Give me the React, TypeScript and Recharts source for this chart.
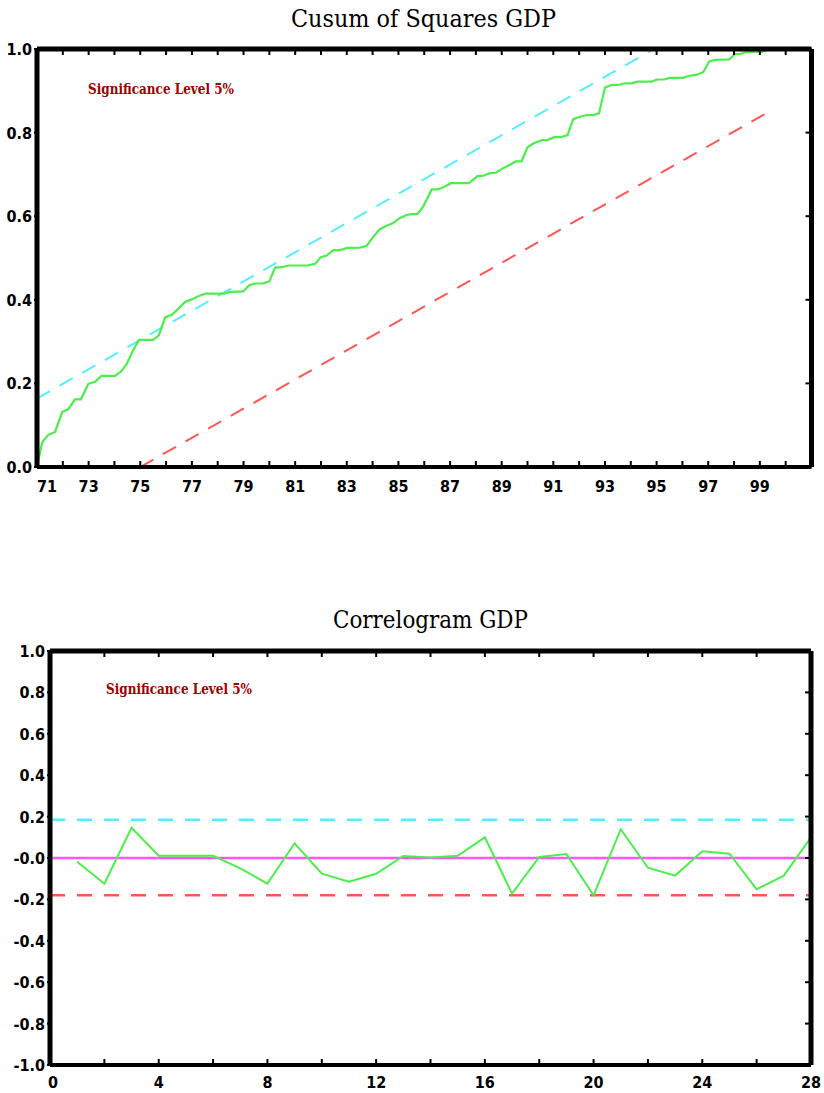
import React from 'react';
import { LineChart, Line, XAxis, YAxis, ReferenceLine } from 'recharts';

// ---------- Cusum of Squares data ----------
const cusumYears = [
  71.0, 71.2, 71.44, 71.7, 71.98, 72.21, 72.47, 72.7, 72.99, 73.25, 73.5, 74.02, 74.25, 74.47, 74.73, 74.95,
  75.5, 75.72, 75.96, 76.22, 76.45, 76.73, 76.99, 77.27, 77.53, 78.25, 78.5, 78.99, 79.22, 79.44, 79.76, 80.0,
  80.22, 80.48, 80.73, 81.47, 81.77, 81.99, 82.22, 82.48, 82.74, 83.02, 83.51, 83.77, 84.03, 84.28, 84.54, 84.78,
  85.06, 85.32, 85.51, 85.73, 85.96, 86.29, 86.54, 86.74, 87.03, 87.73, 88.07, 88.29, 88.54, 88.77, 89.06, 89.32,
  89.54, 89.77, 90.0, 90.22, 90.55, 90.78, 91.03, 91.29, 91.55, 91.77, 92.03, 92.29, 92.55, 92.77, 93.0, 93.26,
  93.51, 93.77, 94.03, 94.25, 94.81, 95.02, 95.28, 95.52, 96.03, 96.26, 96.55, 96.81, 97.04, 97.26, 97.81, 98.03,
  98.23, 98.49, 99.07, 99.3,
];
const cusumValues = [
  0.0, 0.059, 0.077, 0.084, 0.132, 0.138, 0.162, 0.162, 0.199, 0.204, 0.218, 0.218, 0.228, 0.246, 0.28, 0.304,
  0.304, 0.315, 0.358, 0.364, 0.377, 0.395, 0.401, 0.409, 0.415, 0.415, 0.419, 0.42, 0.435, 0.439, 0.439, 0.444,
  0.477, 0.478, 0.482, 0.482, 0.486, 0.502, 0.506, 0.519, 0.519, 0.524, 0.525, 0.529, 0.551, 0.569, 0.577, 0.583,
  0.596, 0.603, 0.605, 0.605, 0.623, 0.664, 0.664, 0.669, 0.679, 0.679, 0.696, 0.697, 0.703, 0.704, 0.715, 0.723,
  0.731, 0.731, 0.765, 0.774, 0.782, 0.782, 0.789, 0.789, 0.794, 0.832, 0.838, 0.842, 0.842, 0.846, 0.908, 0.914,
  0.914, 0.918, 0.918, 0.922, 0.922, 0.927, 0.927, 0.931, 0.931, 0.936, 0.938, 0.945, 0.97, 0.974, 0.975, 0.988,
  0.988, 0.993, 0.993, 0.999,
];
const upperBandYears = [71.0, 94.9];
const upperBandValues = [0.164, 1.0];
const lowerBandYears = [75.0, 99.3];
const lowerBandValues = [0.0, 0.848];
const cusumLabelYears = [71, 73, 75, 77, 79, 81, 83, 85, 87, 89, 91, 93, 95, 97, 99];
const cusumMinorYears = [71, 72, 73, 74, 75, 76, 77, 78, 79, 80, 81, 82, 83, 84, 85, 86, 87, 88, 89, 90, 91, 92, 93, 94, 95, 96, 97, 98, 99, 100, 101];
const cusumYTicks = [0, 0.2, 0.4, 0.6, 0.8, 1.0];

// ---------- Correlogram data ----------
const lags = [1, 2, 3, 4, 5, 6, 7, 8, 9, 10, 11, 12, 13, 14, 15, 16, 17, 18, 19, 20, 21, 22, 23, 24, 25, 26, 27, 28];
const acfValues = [
  -0.018, -0.124, 0.146, 0.011, 0.011, 0.011, -0.05, -0.124, 0.071, -0.076, -0.114, -0.076, 0.01, 0.003,
  0.011, 0.1, -0.172, 0.005, 0.019, -0.18, 0.139, -0.047, -0.085, 0.032, 0.021, -0.151, -0.085, 0.1,
];
const acfBandLags = [0, 28];
const acfUpperValues = [0.185, 0.185];
const acfLowerValues = [-0.18, -0.18];
const acfLabelLags = [0, 4, 8, 12, 16, 20, 24, 28];
const acfMinorLags = [0, 2, 4, 6, 8, 10, 12, 14, 16, 18, 20, 22, 24, 26, 28];
const acfYTicks = [-1, -0.8, -0.6, -0.4, -0.2, 0, 0.2, 0.4, 0.6, 0.8, 1.0];

const toPoints = (xs: number[], ys: number[]) => xs.map((x, i) => ({ x, y: ys[i] }));
const cusumData = toPoints(cusumYears, cusumValues);
const upperBandData = toPoints(upperBandYears, upperBandValues);
const lowerBandData = toPoints(lowerBandYears, lowerBandValues);
const acfData = toPoints(lags, acfValues);
const acfUpperData = toPoints(acfBandLags, acfUpperValues);
const acfLowerData = toPoints(acfBandLags, acfLowerValues);

const GREEN = '#4cee4c';
const CYAN = '#55eeff';
const RED = '#ff5555';
const MAGENTA = '#ff55ff';
const DARKRED = '#a00000';
const TICK_FONT = '"DejaVu Sans Condensed", "Liberation Sans Narrow", sans-serif';
const TITLE_FONT = '"DejaVu Serif", serif';

const makeXTick = (dyBase: number, firstShift: number) => (props: any) => {
  const { x, y, payload, index } = props;
  return (
    <text
      x={x + (index === 0 ? firstShift : 0)}
      y={y + dyBase}
      textAnchor="middle"
      fontFamily={TICK_FONT}
      fontWeight={700}
      fontSize={16}
      fill="#000"
    >
      {String(payload.value)}
    </text>
  );
};

const makeYTick = (fmt: (v: number) => string) => (props: any) => {
  const { x, y, payload } = props;
  return (
    <text x={x} y={y + 6} textAnchor="end" fontFamily={TICK_FONT} fontWeight={700} fontSize={16} fill="#000">
      {fmt(payload.value)}
    </text>
  );
};

const NoLabel = () => <g />;

const fmtTop = (v: number) => v.toFixed(1);
const fmtBottom = (v: number) => (v === 0 ? '-0.0' : v.toFixed(1));

const axisLine = (w: number) => ({ stroke: '#000', strokeWidth: w });
const tickLine = { stroke: '#000', strokeWidth: 2 };

function CusumChart() {
  return (
    <LineChart width={824} height={510} margin={{ top: 49, right: 12.5, bottom: 13, left: 0 }}>
      <XAxis
        xAxisId="b"
        dataKey="x"
        type="number"
        domain={[71, 101]}
        allowDataOverflow
        ticks={cusumLabelYears}
        interval={0}
        height={30}
        tickLine={false}
        tickSize={0}
        tickMargin={0}
        axisLine={axisLine(4)}
        tick={makeXTick(25, 10)}
      />
      <XAxis
        xAxisId="bm"
        orientation="bottom"
        mirror
        dataKey="x"
        type="number"
        domain={[71, 101]}
        allowDataOverflow
        ticks={cusumMinorYears}
        interval={0}
        tick={NoLabel}
        tickSize={6}
        tickLine={tickLine}
        axisLine={false}
      />
      <XAxis
        xAxisId="t"
        orientation="top"
        mirror
        dataKey="x"
        type="number"
        domain={[71, 101]}
        allowDataOverflow
        ticks={cusumMinorYears}
        interval={0}
        tick={NoLabel}
        tickSize={6}
        tickLine={tickLine}
        axisLine={axisLine(5)}
      />
      <YAxis
        yAxisId="l"
        type="number"
        domain={[0, 1]}
        allowDataOverflow
        ticks={cusumYTicks}
        interval={0}
        width={37}
        tickSize={3}
        tickMargin={2}
        tickLine={tickLine}
        axisLine={axisLine(5)}
        tick={makeYTick(fmtTop)}
      />
      <YAxis
        yAxisId="r"
        orientation="right"
        mirror
        type="number"
        domain={[0, 1]}
        allowDataOverflow
        ticks={cusumYTicks}
        interval={0}
        tick={NoLabel}
        tickSize={6}
        tickLine={tickLine}
        axisLine={axisLine(5)}
      />
      <Line
        xAxisId="b"
        yAxisId="l"
        data={upperBandData}
        dataKey="y"
        stroke={CYAN}
        strokeWidth={2}
        strokeDasharray="15 11"
        dot={false}
        isAnimationActive={false}
      />
      <Line
        xAxisId="b"
        yAxisId="l"
        data={lowerBandData}
        dataKey="y"
        stroke={RED}
        strokeWidth={2}
        strokeDasharray="15 11"
        dot={false}
        isAnimationActive={false}
      />
      <Line
        xAxisId="b"
        yAxisId="l"
        data={cusumData}
        dataKey="y"
        stroke={GREEN}
        strokeWidth={2.2}
        dot={false}
        isAnimationActive={false}
      />
    </LineChart>
  );
}

function CorrelogramChart() {
  return (
    <LineChart width={824} height={493} margin={{ top: 51, right: 13, bottom: 0, left: 0 }}>
      <XAxis
        xAxisId="b"
        dataKey="x"
        type="number"
        domain={[0, 28]}
        allowDataOverflow
        ticks={acfLabelLags}
        interval={0}
        height={28}
        tickLine={false}
        tickSize={0}
        tickMargin={0}
        axisLine={axisLine(4)}
        tick={makeXTick(23, 3)}
      />
      <XAxis
        xAxisId="bm"
        orientation="bottom"
        mirror
        dataKey="x"
        type="number"
        domain={[0, 28]}
        allowDataOverflow
        ticks={acfMinorLags}
        interval={0}
        tick={NoLabel}
        tickSize={6}
        tickLine={tickLine}
        axisLine={false}
      />
      <XAxis
        xAxisId="t"
        orientation="top"
        mirror
        dataKey="x"
        type="number"
        domain={[0, 28]}
        allowDataOverflow
        ticks={acfMinorLags}
        interval={0}
        tick={NoLabel}
        tickSize={6}
        tickLine={tickLine}
        axisLine={axisLine(5)}
      />
      <YAxis
        yAxisId="l"
        type="number"
        domain={[-1, 1]}
        allowDataOverflow
        ticks={acfYTicks}
        interval={0}
        width={50}
        tickSize={3}
        tickMargin={2}
        tickLine={tickLine}
        axisLine={axisLine(5)}
        tick={makeYTick(fmtBottom)}
      />
      <YAxis
        yAxisId="r"
        orientation="right"
        mirror
        type="number"
        domain={[-1, 1]}
        allowDataOverflow
        ticks={acfYTicks}
        interval={0}
        tick={NoLabel}
        tickSize={6}
        tickLine={tickLine}
        axisLine={axisLine(5)}
      />
      <ReferenceLine xAxisId="b" yAxisId="l" y={0} stroke={MAGENTA} strokeWidth={2.5} />
      <Line
        xAxisId="b"
        yAxisId="l"
        data={acfUpperData}
        dataKey="y"
        stroke={CYAN}
        strokeWidth={2.5}
        strokeDasharray="15 12"
        dot={false}
        isAnimationActive={false}
      />
      <Line
        xAxisId="b"
        yAxisId="l"
        data={acfLowerData}
        dataKey="y"
        stroke={RED}
        strokeWidth={2.5}
        strokeDasharray="15 12"
        dot={false}
        isAnimationActive={false}
      />
      <Line
        xAxisId="b"
        yAxisId="l"
        data={acfData}
        dataKey="y"
        stroke={GREEN}
        strokeWidth={2}
        dot={false}
        isAnimationActive={false}
      />
    </LineChart>
  );
}

export default function App() {
  return (
    <div style={{ position: 'absolute', left: 0, top: 0, width: 824, height: 1093, background: '#fff', overflow: 'hidden' }}>
      <div style={{ position: 'absolute', left: 0, top: 0 }}>
        <CusumChart />
      </div>
      <div style={{ position: 'absolute', left: 0, top: 600 }}>
        <CorrelogramChart />
      </div>
      <svg width={824} height={1093} style={{ position: 'absolute', left: 0, top: 0, pointerEvents: 'none' }}>
        <text x={291} y={27} fontFamily={TITLE_FONT} fontSize={24} fill="#000" textLength={265} lengthAdjust="spacingAndGlyphs">
          Cusum of Squares GDP
        </text>
        <text x={88} y={94} fontFamily={TITLE_FONT} fontWeight={700} fontSize={15} fill={DARKRED} textLength={146} lengthAdjust="spacingAndGlyphs">
          Significance Level 5%
        </text>
        <text x={333} y={628} fontFamily={TITLE_FONT} fontSize={24} fill="#000" textLength={195} lengthAdjust="spacingAndGlyphs">
          Correlogram GDP
        </text>
        <text x={106} y={694} fontFamily={TITLE_FONT} fontWeight={700} fontSize={15} fill={DARKRED} textLength={146} lengthAdjust="spacingAndGlyphs">
          Significance Level 5%
        </text>
      </svg>
    </div>
  );
}
